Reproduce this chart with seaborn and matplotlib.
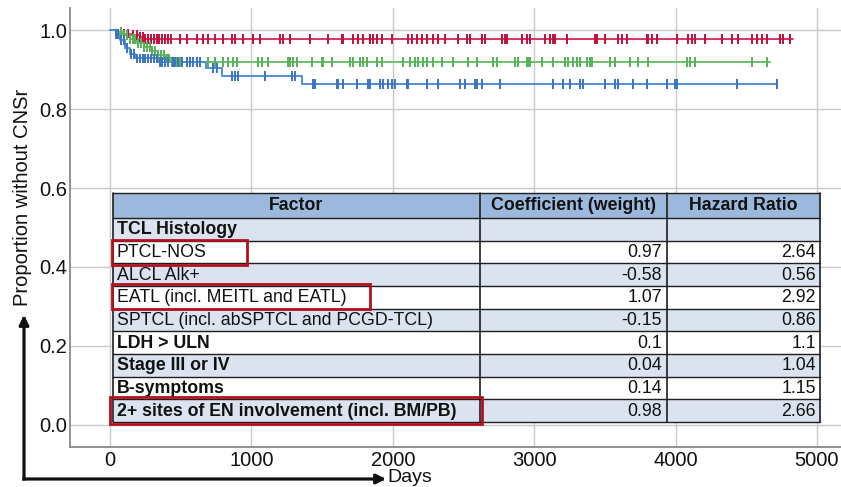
import numpy as np
import pandas as pd
import matplotlib
matplotlib.use("Agg")
import matplotlib.pyplot as plt
from matplotlib.patches import Rectangle, FancyArrowPatch
import seaborn as sns

# ---- Kaplan-Meier step estimates (day, proportion without CNS relapse) ----
red_times = [0, 60, 95, 150, 215, 250]
red_surv = [1.0, 0.995, 0.991, 0.987, 0.983, 0.978]
red_end = 4830

green_times = [0, 50, 90, 140, 190, 240, 290, 340, 390, 430]
green_surv = [1.0, 0.995, 0.988, 0.978, 0.967, 0.957, 0.947, 0.937, 0.928, 0.920]
green_end = 4668

blue_times = [0, 40, 70, 105, 140, 180, 340, 680, 790, 1360]
blue_surv = [1.0, 0.99, 0.975, 0.955, 0.94, 0.928, 0.918, 0.903, 0.884, 0.863]
blue_end = 4715

# ---- censoring times (days) ----
red_censor = [100, 130, 160, 190, 215, 230, 250, 270, 290, 310, 330, 350, 370, 390,
              410, 430, 495, 542, 613, 660, 695, 743, 801, 860, 884, 943, 1014, 1061,
              1202, 1226, 1273, 1414, 1544, 1639, 1650, 1721, 1756, 1792, 1839, 1862,
              1886, 1921, 1992, 2110, 2134, 2169, 2204, 2240, 2287, 2322, 2369, 2463,
              2522, 2546, 2628, 2652, 2770, 2793, 2805, 2912, 2947, 2970, 3076, 3112,
              3135, 3147, 3230, 3430, 3442, 3500, 3595, 3619, 3654, 3795, 3807, 3831,
              3866, 4007, 4090, 4114, 4137, 4208, 4326, 4396, 4443, 4538, 4573, 4608,
              4644, 4738, 4762, 4809]
green_censor = [80, 100, 120, 140, 160, 180, 200, 220, 240, 260, 280, 300, 320, 340,
                360, 380, 400, 420, 436, 448, 471, 495, 542, 566, 613, 637, 695, 743,
                801, 837, 872, 896, 1049, 1073, 1120, 1261, 1273, 1297, 1320, 1426,
                1497, 1509, 1568, 1697, 1721, 1768, 1792, 1815, 1886, 1921, 2074, 2122,
                2157, 2181, 2216, 2240, 2287, 2346, 2428, 2534, 2593, 2711, 2735, 2864,
                2888, 2947, 2959, 2970, 3053, 3135, 3218, 3241, 3277, 3300, 3324, 3371,
                3395, 3407, 3536, 3571, 3678, 3736, 3807, 4078, 4102, 4137, 4538, 4644]
blue_censor = [40, 60, 80, 100, 120, 150, 170, 190, 210, 230, 250, 270, 290, 310, 330,
               354, 365, 389, 413, 448, 460, 483, 507, 542, 566, 589, 613, 637, 731,
               754, 860, 884, 908, 1096, 1285, 1308, 1438, 1450, 1603, 1615, 1650, 1745,
               1827, 1839, 1909, 1933, 1968, 1992, 2016, 2098, 2110, 2240, 2322, 2475,
               2511, 2581, 2593, 2628, 2758, 3135, 3206, 3253, 3324, 3348, 3500, 3571,
               3595, 3701, 3795, 3937, 3996, 4007, 4432, 4715]

# ---- risk-score table ----
factors = ["TCL Histology", "PTCL-NOS", "ALCL Alk+", "EATL (incl. MEITL and EATL)",
           "SPTCL (incl. abSPTCL and PCGD-TCL)", "LDH > ULN", "Stage III or IV",
           "B-symptoms", "2+ sites of EN involvement (incl. BM/PB)"]
coefficients = ["", "0.97", "-0.58", "1.07", "-0.15", "0.1", "0.04", "0.14", "0.98"]
hazard_ratios = ["", "2.64", "0.56", "2.92", "0.86", "1.1", "1.04", "1.15", "2.66"]
bold_rows = [True, False, False, False, False, True, True, True, True]
header = ["Factor", "Coefficient (weight)", "Hazard Ratio"]

x_ticks = [0, 1000, 2000, 3000, 4000, 5000]
y_ticks = [0.0, 0.2, 0.4, 0.6, 0.8, 1.0]

groups = ["low", "intermediate", "high"]
line_colors = {"low": "#d8335c", "intermediate": "#6cbf6c", "high": "#528dd2"}
mark_colors = {"low": "#c0103c", "intermediate": "#58b058", "high": "#3a74c0"}

sns.set_style("whitegrid")
plt.rcParams["font.family"] = ["Liberation Sans", "DejaVu Sans"]

# build long-form frames for the step curves and censor marks
curve_rows, cens_rows = [], []
series = [("low", red_times, red_surv, red_end, red_censor),
          ("intermediate", green_times, green_surv, green_end, green_censor),
          ("high", blue_times, blue_surv, blue_end, blue_censor)]
for name, t, s, end, cens in series:
    for ti, si in zip(t + [end], s + [s[-1]]):
        curve_rows.append({"day": ti, "surv": si, "group": name})
    t_arr = np.asarray(t)
    for c in cens:
        idx = np.searchsorted(t_arr, c, side="right") - 1
        cens_rows.append({"day": c, "surv": s[idx], "group": name})
curves = pd.DataFrame(curve_rows)
censored = pd.DataFrame(cens_rows)

W, H = 841, 487
fig = plt.figure(figsize=(W / 100, H / 100), dpi=100)
ax = fig.add_axes([70 / W, 40 / H, (W - 70) / W, 439 / H])

sns.lineplot(data=curves, x="day", y="surv", hue="group", hue_order=groups,
             palette=line_colors, drawstyle="steps-post", estimator=None,
             sort=False, linewidth=1.4, legend=False, ax=ax)
sns.scatterplot(data=censored, x="day", y="surv", hue="group", hue_order=groups,
                palette=mark_colors, marker="|", s=50, linewidth=1.4,
                legend=False, ax=ax, zorder=3)

ax.set_xlim(-283, 5170)
ax.set_ylim(-0.0557, 1.0557)
ax.set_xticks(x_ticks)
ax.set_xticklabels([str(v) for v in x_ticks])
ax.set_yticks(y_ticks)
ax.set_yticklabels([f"{v:.1f}" for v in y_ticks])
ax.tick_params(axis="x", length=0, pad=3, labelsize=14.5, colors="#111111")
ax.tick_params(axis="y", length=0, pad=2, labelsize=14.5, colors="#111111")
ax.grid(True, color="#c9c9c9", linewidth=1.0)
ax.set_xlabel("")
ax.set_ylabel("Proportion without CNSr", fontsize=14.5, color="#111111")
ax.yaxis.set_label_coords(-0.061, 0.569)
ax.yaxis.label.set_va("center")
for side in ["top", "right"]:
    ax.spines[side].set_visible(False)
for side in ["left", "bottom"]:
    ax.spines[side].set_color("#8a8a8a")
    ax.spines[side].set_linewidth(1.3)

# ---- table overlay ----
tax = fig.add_axes([113 / W, (H - 422) / H, 707 / W, 229 / H])
tax.set_xlim(0, 707)
tax.set_ylim(229, 0)
tax.axis("off")
col_edges = [0, 367, 554, 707]
row_edges = [0, 25] + [25 + 22.667 * (i + 1) for i in range(len(factors))]

tax.add_patch(Rectangle((0, 0), 707, 25, facecolor="#9cb8dc", edgecolor="none"))
for i in range(len(factors)):
    y0, y1 = row_edges[i + 1], row_edges[i + 2]
    fc = "#dbe2f0" if i % 2 == 0 else "white"
    tax.add_patch(Rectangle((0, y0), 707, y1 - y0, facecolor=fc, edgecolor="none"))

for y in row_edges:
    tax.plot([0, 707], [y, y], color="#1e1e1e", lw=1.0, clip_on=False)
for x in col_edges:
    tax.plot([x, x], [0, 229], color="#1e1e1e", lw=1.2, clip_on=False)

fs = 12.8
for j, txt in enumerate(header):
    tax.text((col_edges[j] + col_edges[j + 1]) / 2, 13, txt, ha="center",
             va="center", fontsize=fs, fontweight="bold", color="#111111")
for i, (f, c, hr, b) in enumerate(zip(factors, coefficients, hazard_ratios, bold_rows)):
    yc = (row_edges[i + 1] + row_edges[i + 2]) / 2 + 0.5
    tax.text(4, yc, f, ha="left", va="center", fontsize=fs,
             fontweight="bold" if b else "normal", color="#111111")
    tax.text(col_edges[2] - 5, yc, c, ha="right", va="center", fontsize=fs,
             color="#111111")
    tax.text(col_edges[3] - 4, yc, hr, ha="right", va="center", fontsize=fs,
             color="#111111")

# highlighted factors
for (x0, y0, w, h) in [(-1, 47, 135, 25), (-1, 91, 258, 25), (-3, 204, 372, 27)]:
    tax.add_patch(Rectangle((x0, y0), w, h, facecolor="none", edgecolor="#b3101e",
                            linewidth=2.0, clip_on=False, zorder=5))

# ---- L-shaped axis arrows ----
corner = (24 / W, (H - 479) / H)
for tip in [(24 / W, (H - 315) / H), (386 / W, (H - 479) / H)]:
    fig.add_artist(FancyArrowPatch(corner, tip, transform=fig.transFigure,
                                   arrowstyle="-|>", mutation_scale=14,
                                   linewidth=2.3, color="#111111",
                                   shrinkA=0, shrinkB=0, capstyle="projecting"))
fig.text(387 / W, (H - 482) / H, "Days", ha="left", va="baseline", fontsize=14,
         color="#111111")

fig.savefig("out.png", dpi=100)
